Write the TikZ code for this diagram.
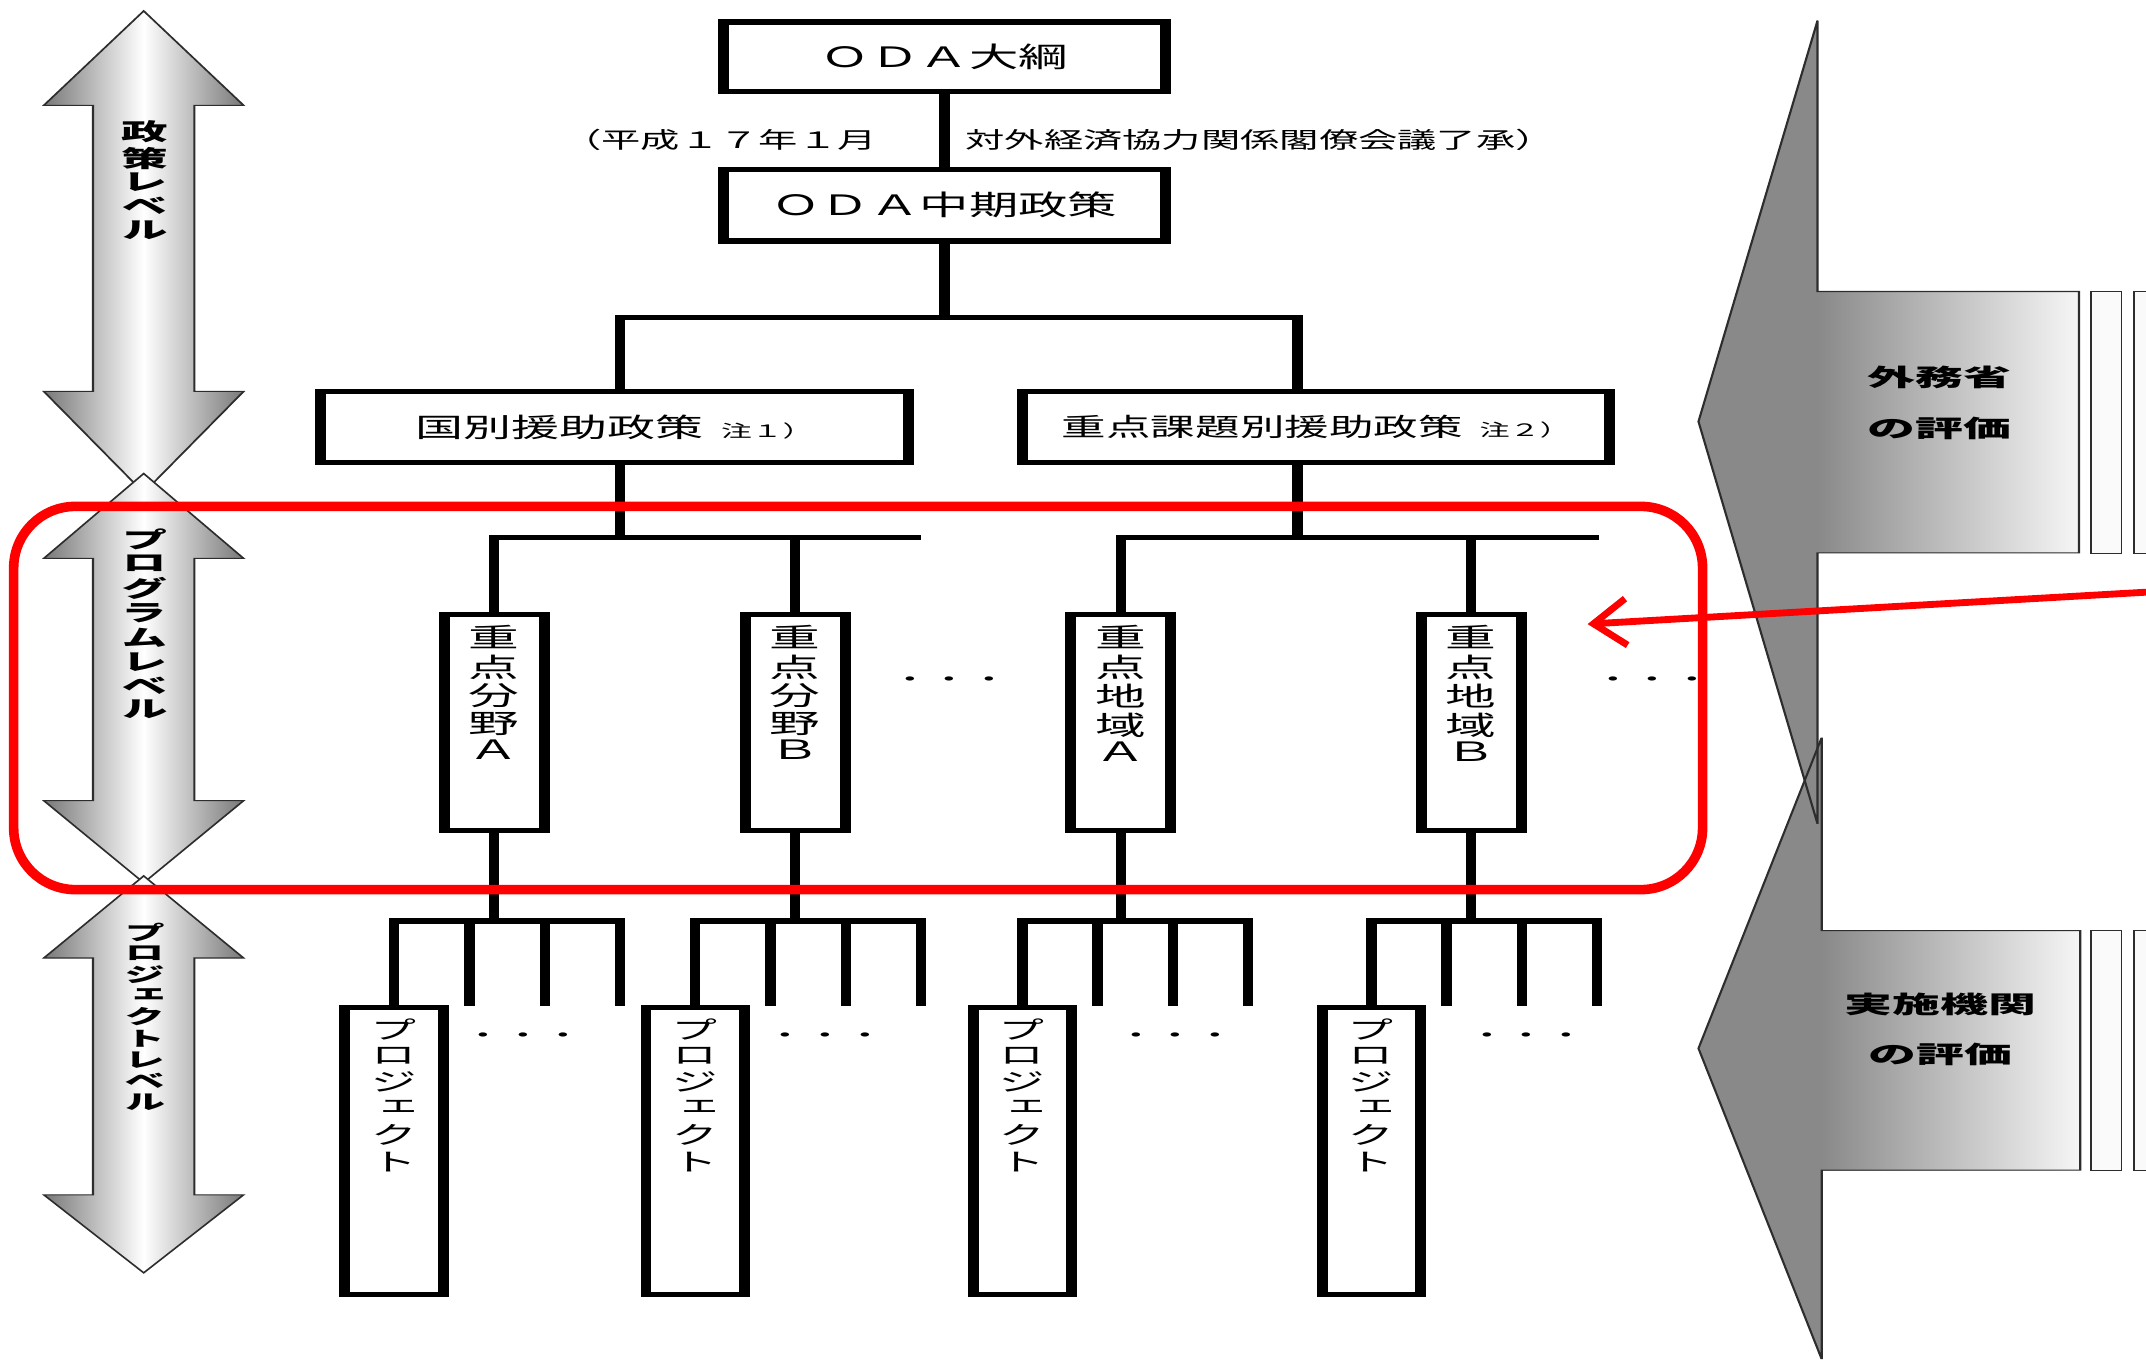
\documentclass[tikz,border=0pt]{standalone}
\usepackage{fontspec}
\usepackage{graphicx}
\usetikzlibrary{arrows.meta}
\newfontfamily\jp{Noto Sans CJK JP}
\newfontfamily\jpv[RawFeature=+vert]{Noto Sans CJK JP}
\newcommand\fs[1]{\fontsize{#1}{#1}\selectfont}
\newcommand\vstack[1]{\begin{tabular}{@{}c@{}}#1\end{tabular}}
\newcommand\nx[2]{\scalebox{#1}[1]{#2}}
\definecolor{hgray}{RGB}{120,120,120}
\definecolor{rgray}{RGB}{137,137,137}
\definecolor{rlight}{RGB}{246,246,246}
\definecolor{stripc}{RGB}{250,250,250}
\definecolor{edgec}{RGB}{45,45,45}
\definecolor{redc}{RGB}{255,0,0}
\tikzset{
  conn/.style={line width=3.8pt},
  boxn/.style={draw, line width=4pt, inner sep=0pt, fill=white},
  ttl/.style={font=\jp\fs{20.5}},
  vtxt/.style={inner sep=0pt, font=\jpv\fontsize{19.5}{16.2}\selectfont},
  ptxt/.style={inner sep=0pt, font=\jpv\fontsize{18.5}{18.3}\selectfont},
  ltxt/.style={inner sep=0pt, font=\jpv\bfseries\fontsize{17}{15.3}\selectfont},
  rtxt/.style={inner sep=0pt, font=\jp\bfseries\fontsize{17.5}{37}\selectfont},
  dots/.style={inner sep=0pt, font=\jp\fs{14.5}},
  larrow/.style={left color=hgray, right color=hgray, middle color=white, draw=edgec, line width=0.8pt},
  routline/.style={draw=edgec, line width=0.8pt},
  strip/.style={fill=stripc, draw=edgec, line width=0.6pt},
}
\begin{document}
\begin{tikzpicture}[x=1pt,y=-1pt]
\fill[white] (0,0) rectangle (1568,995);
\useasboundingbox (0,0) rectangle (1568,995);
\begin{scope}[transform canvas={xscale=2}, x=0.5pt]
  % ---------- left double arrows ----------
  \path[larrow] (105,8) -- (178,77) -- (142,77) -- (142,286) -- (178,286) -- (105,360)
     -- (32,286) -- (68,286) -- (68,77) -- (32,77) -- cycle;
  \path[larrow] (105,346) -- (178,408) -- (142,408) -- (142,585) -- (178,585) -- (105,645)
     -- (32,585) -- (68,585) -- (68,408) -- (32,408) -- cycle;
  \path[larrow] (105,640) -- (178,700) -- (142,700) -- (142,873) -- (178,873) -- (105,930)
     -- (32,873) -- (68,873) -- (68,700) -- (32,700) -- cycle;
  \node[ltxt, anchor=north] (lv1) at (106,88) {\vstack{政\\策\\レ\\ベ\\ル}};
  \node[ltxt, anchor=north] (lv2) at (106,386) {\vstack{プ\\ロ\\グ\\ラ\\ム\\レ\\ベ\\ル}};
  \node[ltxt, anchor=north, font=\jpv\bfseries\fontsize{15}{13.6}\selectfont] (lv3) at (106,674) {\vstack{プ\\ロ\\ジ\\ェ\\ク\\ト\\レ\\ベ\\ル}};

  % ---------- right evaluation arrows ----------
  \fill[rgray] (1328,15) -- (1241,308) -- (1328,602) -- cycle;
  \shade[left color=rgray, right color=rlight] (1328,213) rectangle (1519,404);
  \fill[rgray] (1331,539) -- (1241,766) -- (1331,993) -- cycle;
  \shade[left color=rgray, right color=rlight] (1331,680) rectangle (1520,855);
  \path[routline] (1519,213) -- (1328,213) -- (1328,15) -- (1241,308) -- (1328,602)
     -- (1328,404) -- (1519,404) -- cycle;
  \path[routline] (1520,680) -- (1331,680) -- (1331,539) -- (1241,766) -- (1331,993)
     -- (1331,855) -- (1520,855) -- cycle;
  \path[strip] (1528,213) rectangle (1550,404);
  \path[strip] (1559,213) rectangle (1585,404);
  \path[strip] (1528,680) rectangle (1550,855);
  \path[strip] (1559,680) rectangle (1585,855);
  \node[rtxt] (ev1) at (1417,293.5) {\begin{tabular}{@{}c@{}}外務省\\の評価\end{tabular}};
  \node[rtxt] (ev2) at (1418,751.5) {\begin{tabular}{@{}c@{}}実施機関\\の評価\end{tabular}};

  % ---------- top boxes ----------
  \node[boxn, ttl, minimum width=161.5pt, minimum height=51pt] (oda) at (690,41.5) {\nx{0.88}{ＯＤＡ大綱}};
  \node[boxn, ttl, minimum width=161.5pt, minimum height=52pt] (mid) at (690,150) {\nx{0.88}{ＯＤＡ中期政策}};
  \node[inner sep=0pt, anchor=east, font=\jp\fs{16.5}] (lab1) at (641,102) {\nx{0.87}{（平成１７年１月}};
  \node[inner sep=0pt, anchor=west, font=\jp\fs{16.5}] (lab2) at (705,102) {\nx{0.87}{対外経済協力関係閣僚会議了承）}};
  \draw[conn] (oda.south) -- (mid.north);

  \node[boxn, minimum width=215pt, minimum height=52pt, font=\jp\fs{19.5}] (kuni) at (449,312)
     {\nx{0.9}{国別援助政策\hspace{7pt}{\fs{12.5}注１）}}};
  \node[boxn, minimum width=214.5pt, minimum height=52pt, font=\jp\fs{18.5}] (juten) at (961.5,312)
     {\nx{0.88}{重点課題別援助政策\hspace{7pt}{\fs{12.5}注２）}}};

  \coordinate (tb) at (690,232);
  \coordinate (tbL) at (453,232);
  \coordinate (tbR) at (948,232);
  \draw[conn] (mid.south) -- (tb);
  \draw[conn] (tbL |- kuni.north) -- (tbL) -- (tbR) -- (tbR |- juten.north);

  % ---------- program level ----------
  \foreach \n/\x in {pA/361, pB/581, rA/819, rB/1075} {
    \node[boxn, minimum width=36.5pt, minimum height=158pt] (\n) at (\x,528) {};
  }
  \node[vtxt, anchor=north, yshift=-10pt] (pAt) at (pA.north) {\nx{0.95}{\vstack{重\\点\\分\\野\\Ａ}}};
  \node[vtxt, anchor=north, yshift=-10pt] (pBt) at (pB.north) {\nx{0.95}{\vstack{重\\点\\分\\野\\Ｂ}}};
  \node[vtxt, anchor=north, yshift=-10pt] (rAt) at (rA.north) {\nx{0.95}{\vstack{重\\点\\地\\域\\Ａ}}};
  \node[vtxt, anchor=north, yshift=-10pt] (rBt) at (rB.north) {\nx{0.95}{\vstack{重\\点\\地\\域\\Ｂ}}};

  \coordinate (kb) at (453,393);
  \coordinate (kbEnd) at (673,393);
  \coordinate (jb) at (948,393);
  \coordinate (jbEnd) at (1168,393);
  \draw[conn] (kb |- kuni.south) -- (kb);
  \draw[conn] (pA.north) -- (pA.north |- kb) -- (kbEnd);
  \draw[conn] (pB.north) -- (pB.north |- kb);
  \draw[conn] (jb |- juten.south) -- (jb);
  \draw[conn] (rA.north) -- (rA.north |- jb) -- (jbEnd);
  \draw[conn] (rB.north) -- (rB.north |- jb);

  \node[dots] (pd1) at (694,498) {・・・};
  \node[dots] (pd2) at (1207.5,498) {・・・};

  % ---------- project level ----------
  \foreach \p/\q/\x in {pA/prj1/288, pB/prj2/508, rA/prj3/747, rB/prj4/1002} {
    \node[boxn, minimum width=36pt, minimum height=210pt] (\q) at (\x,841) {};
    \node[ptxt, anchor=north, yshift=-10pt] (\q t) at (\q.north) {\nx{0.93}{\vstack{プ\\ロ\\ジ\\ェ\\ク\\ト}}};
    \coordinate (\q-bar) at (\x,673);
    \coordinate (\q-bend) at (\x+165,673);
    \coordinate (\q-e4) at (\x+165,735);
    \coordinate (\q-m2) at (\x+55,673);
    \coordinate (\q-e2) at (\x+55,735);
    \coordinate (\q-m3) at (\x+110,673);
    \coordinate (\q-e3) at (\x+110,735);
    \draw[conn] (\p.south) -- (\p.south |- \q-bar);
    \draw[conn] (\q.north) -- (\q-bar) -- (\q-bend) -- (\q-e4);
    \draw[conn] (\q-m2) -- (\q-e2);
    \draw[conn] (\q-m3) -- (\q-e3);
  }
  \node[dots] (qd1) at (382.5,758) {・・・};
  \node[dots] (qd2) at (603,758) {・・・};
  \node[dots] (qd3) at (859,758) {・・・};
  \node[dots] (qd4) at (1115.5,758) {・・・};
\end{scope}

% ---------- red annotation ----------
\draw[redc, line width=7pt, rounded corners=45pt] (10,370) rectangle (1244,650);
\coordinate (rs) at (1580,432);
\coordinate (rt) at (1160,456);
\draw[redc, line width=5pt, -{Straight Barb[length=24pt,width=34pt]}] (rs) -- (rt);
\end{tikzpicture}
\end{document}
